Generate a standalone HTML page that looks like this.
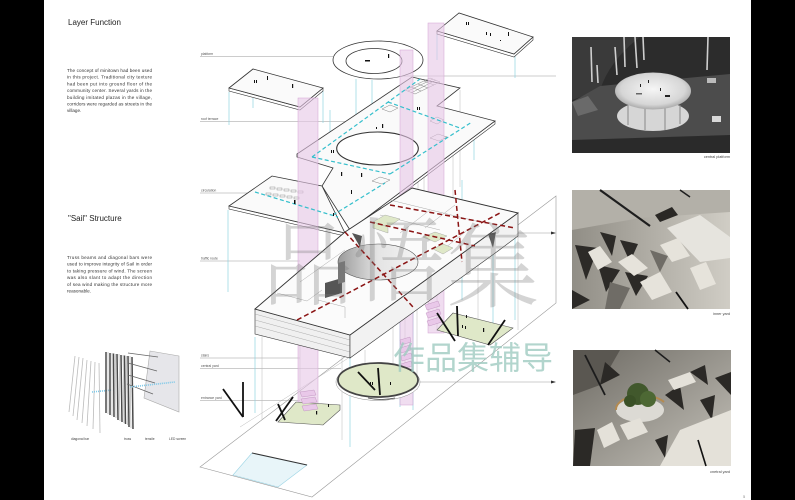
<!DOCTYPE html>
<html><head><meta charset="utf-8"><style>
html,body{margin:0;padding:0;background:#fff;}
svg{display:block;}
</style></head><body>
<svg width="795" height="500" viewBox="0 0 795 500" xmlns="http://www.w3.org/2000/svg" font-family="'Liberation Sans', sans-serif">
<defs>
<radialGradient id="pl" cx="0.5" cy="0.45" r="0.6"><stop offset="0" stop-color="#f6f6f6"/><stop offset="0.7" stop-color="#d6d6d6"/><stop offset="1" stop-color="#9a9a9a"/></radialGradient>
<linearGradient id="p2bg" x1="0" y1="0" x2="1" y2="0"><stop offset="0" stop-color="#918e86"/><stop offset="1" stop-color="#d0cdc5"/></linearGradient>
<linearGradient id="p3bg" x1="0" y1="0" x2="1" y2="1"><stop offset="0" stop-color="#6e6b64"/><stop offset="1" stop-color="#c4c1b9"/></linearGradient>
<linearGradient id="hole" x1="0" y1="0" x2="1" y2="0"><stop offset="0" stop-color="#9a9a9a"/><stop offset="0.5" stop-color="#e4e4e4"/><stop offset="1" stop-color="#f4f4f4"/></linearGradient>
</defs>
<rect width="795" height="500" fill="#fff"/>
<rect x="0" y="0" width="44" height="500" fill="#000"/>
<rect x="751" y="0" width="44" height="500" fill="#000"/>

<!-- LEFT TEXT -->
<g fill="#222">
<text x="68" y="25" font-size="8">Layer Function</text>
<g font-size="4.6" fill="#333">
<text x="67" y="72" textLength="85" lengthAdjust="spacing">The concept of minitown had been used</text>
<text x="67" y="78.7" textLength="85" lengthAdjust="spacing">in this project. Traditional city texture</text>
<text x="67" y="85.4" textLength="85" lengthAdjust="spacing">had been put into ground floor of the</text>
<text x="67" y="92.1" textLength="85" lengthAdjust="spacing">community center. Several yards in the</text>
<text x="67" y="98.8" textLength="85" lengthAdjust="spacing">building imitated plazas in the village,</text>
<text x="67" y="105.5" textLength="85" lengthAdjust="spacing">corridors were regarded as streets in the</text>
<text x="67" y="112.2">village.</text>
</g>
<text x="68" y="221" font-size="8">"Sail" Structure</text>
<g font-size="4.6" fill="#333">
<text x="67" y="259" textLength="85" lengthAdjust="spacing">Truss beams and diagonal bars were</text>
<text x="67" y="265.7" textLength="85" lengthAdjust="spacing">used to improve integrity of Sail in order</text>
<text x="67" y="272.4" textLength="85" lengthAdjust="spacing">to taking pressure of wind. The screen</text>
<text x="67" y="279.1" textLength="85" lengthAdjust="spacing">was also slant to adapt the direction</text>
<text x="67" y="285.8" textLength="85" lengthAdjust="spacing">of sea wind making the structure more</text>
<text x="67" y="292.5">reasonable.</text>
</g>
</g>

<!-- SAIL DIAGRAM -->
<g stroke="#bbb" stroke-width="0.8">
<line x1="75" y1="356" x2="69" y2="412"/><line x1="79" y1="357" x2="73" y2="416"/><line x1="83" y1="358" x2="77" y2="420"/><line x1="87" y1="360" x2="82" y2="423"/><line x1="91" y1="361" x2="87" y2="426"/><line x1="95" y1="362" x2="93" y2="429"/><line x1="99" y1="363" x2="100" y2="433"/>
</g>
<line x1="92" y1="392" x2="112" y2="390" stroke="#7cc8e8" stroke-width="1.6" stroke-dasharray="1 1"/>
<g stroke="#4a4a4a" stroke-width="1.5">
<line x1="106" y1="352" x2="106" y2="413"/><line x1="110" y1="353" x2="110" y2="415"/><line x1="113.5" y1="353.5" x2="114" y2="417"/><line x1="117" y1="354" x2="118" y2="420"/><line x1="121" y1="355" x2="122" y2="422"/><line x1="124.5" y1="355.5" x2="125.5" y2="424"/><line x1="128" y1="356" x2="129" y2="427"/><line x1="132" y1="357" x2="133" y2="429"/>
</g>
<g stroke="#aaa" stroke-width="0.6">
<line x1="108" y1="352" x2="108" y2="414"/><line x1="112" y1="353" x2="112" y2="416"/><line x1="115.5" y1="354" x2="116" y2="418"/><line x1="119" y1="354" x2="120" y2="421"/><line x1="123" y1="355" x2="124" y2="423"/><line x1="126.5" y1="356" x2="127.5" y2="425"/><line x1="130" y1="356" x2="131" y2="428"/>
</g>
<polygon points="150,351 179,356 179,412 144,398" fill="#e6e6ea" stroke="#aaa" stroke-width="0.6"/>
<g stroke="#666" stroke-width="0.8">
<line x1="128" y1="353" x2="158" y2="357"/><line x1="128" y1="363" x2="157" y2="371"/><line x1="128" y1="375" x2="155" y2="383"/><line x1="127" y1="384" x2="153" y2="394"/>
</g>
<line x1="130" y1="387" x2="175" y2="382" stroke="#7cc8e8" stroke-width="1.6" stroke-dasharray="1 1"/>
<g font-size="3.3" fill="#444">
<text x="71" y="440">diagonal bar</text><text x="124" y="440">truss</text><text x="145" y="440">tensile</text><text x="169" y="440">LED screen</text>
</g>

<!-- GROUND STRIP -->
<polygon points="200,467 556,196 556,303 312,497" fill="#fff" stroke="#999" stroke-width="0.6"/>
<line x1="240" y1="427" x2="350" y2="357" stroke="#bbb" stroke-width="0.5"/>
<polygon points="252,453 307,465 278,487 233,475" fill="#e8f5f9" stroke="#9fd6e6" stroke-width="0.6"/>
<line x1="252" y1="453" x2="307" y2="465" stroke="#333" stroke-width="1"/>

<!-- LEADER LINES -->
<g stroke="#999" stroke-width="0.5">
<line x1="200" y1="56.5" x2="333" y2="56.5"/>
<line x1="200" y1="121.5" x2="377" y2="121.5"/>
<line x1="200" y1="193" x2="260" y2="193"/>
<line x1="200" y1="261" x2="300" y2="261"/>
<line x1="200" y1="358" x2="300" y2="358"/>
<line x1="200" y1="368.5" x2="341" y2="368.5"/>
<line x1="200" y1="400.5" x2="300" y2="400.5"/>
<line x1="393" y1="76" x2="556" y2="76"/>
<line x1="500" y1="233" x2="555" y2="233"/>
<line x1="417" y1="382" x2="555" y2="382"/>
</g>
<polygon points="556,233 551,231.5 551,234.5" fill="#333"/>
<polygon points="556,382 551,380.5 551,383.5" fill="#333"/>
<g font-size="3.4" fill="#555">
<text x="201" y="55">platform</text><text x="201" y="120">roof terrace</text><text x="201" y="191.5">circulation</text><text x="201" y="259.5">traffic route</text><text x="201" y="356.5">stairs</text><text x="201" y="367">central yard</text><text x="201" y="399">entrance yard</text>
</g>

<!-- CYAN / GRAY VERTICAL LINES -->
<g stroke="#8fd3e0" stroke-width="0.7">
<line x1="229" y1="92" x2="229" y2="125"/><line x1="253" y1="98" x2="253" y2="108"/><line x1="323" y1="91" x2="323" y2="123"/><line x1="356" y1="79" x2="356" y2="122"/><line x1="437" y1="34" x2="437" y2="60"/><line x1="515" y1="56" x2="515" y2="78"/>
<line x1="228" y1="210" x2="228" y2="292"/><line x1="255" y1="337" x2="255" y2="413"/><line x1="350" y1="357" x2="350" y2="447"/><line x1="400" y1="313" x2="400" y2="407"/><line x1="493" y1="207" x2="493" y2="337"/><line x1="462" y1="180" x2="462" y2="300"/><line x1="357" y1="160" x2="357" y2="215"/><line x1="474" y1="126" x2="474" y2="160"/>
<line x1="330" y1="110" x2="330" y2="150"/><line x1="372" y1="80" x2="372" y2="120"/><line x1="413" y1="300" x2="413" y2="410"/><line x1="515" y1="235" x2="515" y2="320"/>
</g>
<g stroke="#b8b8b8" stroke-width="0.5">
<line x1="387" y1="120" x2="387" y2="250"/><line x1="391" y1="125" x2="391" y2="240"/><line x1="396" y1="120" x2="396" y2="250"/><line x1="418" y1="110" x2="418" y2="260"/><line x1="424" y1="115" x2="424" y2="245"/><line x1="453" y1="125" x2="453" y2="250"/><line x1="460" y1="90" x2="460" y2="187"/>
<line x1="262" y1="334" x2="262" y2="420"/><line x1="300" y1="336" x2="300" y2="420"/><line x1="342" y1="357" x2="342" y2="440"/><line x1="365" y1="350" x2="365" y2="400"/><line x1="393" y1="310" x2="393" y2="390"/><line x1="405" y1="300" x2="405" y2="385"/><line x1="417" y1="290" x2="417" y2="390"/><line x1="437" y1="280" x2="437" y2="330"/><line x1="518" y1="235" x2="518" y2="330"/><line x1="478" y1="250" x2="478" y2="330"/>
</g>

<!-- TOP-LEFT SLAB -->
<polygon points="229,88 300,107 323,88 323,91 300,110 229,91" fill="#fff" stroke="#333" stroke-width="0.6"/>
<polygon points="229,88 253,69 323,88 300,107" fill="#fafafa" stroke="#333" stroke-width="0.8"/>
<!-- TOP-RIGHT SLAB -->
<polygon points="437,31 514,54 533,37 533,40 514,57 437,34" fill="#fff" stroke="#333" stroke-width="0.6"/>
<polygon points="437,31 459,13 533,37 514,54" fill="#fafafa" stroke="#333" stroke-width="0.8"/>

<!-- PLATFORM RING -->
<ellipse cx="378" cy="60" rx="45" ry="19" fill="#fff" stroke="#333" stroke-width="0.8"/>
<ellipse cx="374" cy="61" rx="28" ry="12.5" fill="#fff" stroke="#333" stroke-width="0.8"/>

<!-- ROOF TERRACE -->
<polygon points="495,121 350,230 350,233 495,124" fill="#fff" stroke="#333" stroke-width="0.6"/>
<polygon points="297,154 412,77 460,88 437,106 495,121 350,230 322,186 333,168 297,157" fill="#fafafa" stroke="#333" stroke-width="0.8"/>
<ellipse cx="377.5" cy="148.5" rx="40.8" ry="16.5" fill="#fff" stroke="#333" stroke-width="1.1"/>
<g fill="none" stroke="#666" stroke-width="0.4">
<polygon points="405,90 430,78 440,82 415,94"/><line x1="411" y1="87" x2="421" y2="91"/><line x1="418" y1="84" x2="428" y2="88"/><line x1="424" y1="81" x2="434" y2="85"/><line x1="411" y1="93" x2="436" y2="80"/><line x1="408" y1="91" x2="433" y2="79"/>
<polygon points="382,109 390,105 398,108 390,112"/><polygon points="430,121 437,117 444,120 437,124"/><polygon points="430,138 438,134 447,137 439,141"/><polygon points="372,181 380,177 390,180 382,184"/>
</g>

<!-- CIRCULATION -->
<polygon points="229,206 345,233 345,236 229,209" fill="#fff" stroke="#333" stroke-width="0.6"/>
<polygon points="229,206 272,176 322,186 345,233" fill="#fafafa" stroke="#333" stroke-width="0.8"/>
<g fill="none" stroke="#777" stroke-width="0.4">
<rect x="270" y="187" width="5" height="2"/><rect x="277" y="188" width="5" height="2"/><rect x="284" y="189" width="5" height="2"/><rect x="291" y="190" width="5" height="2"/><rect x="298" y="191" width="5" height="2"/>
<rect x="266" y="193" width="5" height="2"/><rect x="273" y="194" width="5" height="2"/><rect x="280" y="195" width="5" height="2"/><rect x="287" y="196" width="5" height="2"/><rect x="294" y="197" width="5" height="2"/>
</g>

<!-- PINK COLUMNS -->
<g fill="#e6c6e6" fill-opacity="0.6" stroke="#d3a3d3" stroke-width="0.5">
<rect x="298" y="98" width="20" height="320"/>
<rect x="400" y="50" width="13" height="355"/>
<rect x="428" y="23" width="16" height="310"/>
</g>

<!-- CYAN DASHED -->
<g stroke="#35bfcc" stroke-width="1.2" stroke-dasharray="4 2.5" fill="none">
<line x1="312" y1="157" x2="420" y2="79"/>
<line x1="388" y1="102" x2="460" y2="128"/>
<line x1="390" y1="174" x2="472" y2="122"/>
<line x1="312" y1="157" x2="390" y2="174"/>
<line x1="255" y1="192" x2="338" y2="217"/>
<line x1="333" y1="215" x2="385" y2="183"/>
</g>

<!-- TRAFFIC LEVEL -->
<polygon points="255,309 350,335 350,358 255,334" fill="#f0f0f0" stroke="#333" stroke-width="0.6"/>
<g stroke="#999" stroke-width="0.4"><line x1="255" y1="314" x2="350" y2="340"/><line x1="255" y1="320" x2="350" y2="346"/><line x1="255" y1="326" x2="350" y2="352"/></g>
<polygon points="350,335 518,213 518,236 498,251 350,358" fill="#f2f2f2" stroke="#333" stroke-width="0.6"/>
<polygon points="255,309 345,232 412,188 518,213 350,335" fill="#fbfbfb" stroke="#333" stroke-width="0.9"/>
<ellipse cx="378" cy="262" rx="40" ry="18" fill="url(#hole)" stroke="#555" stroke-width="0.6"/>
<g stroke="#aaa" stroke-width="0.5" fill="none">
<polyline points="277,293 307,301 322,290"/><line x1="300" y1="282" x2="345" y2="250"/><line x1="380" y1="215" x2="440" y2="230"/><line x1="390" y1="200" x2="480" y2="222"/><line x1="430" y1="210" x2="400" y2="233"/><line x1="455" y1="205" x2="425" y2="228"/><line x1="470" y1="228" x2="440" y2="252"/><polyline points="318,300 345,307 345,318"/>
</g>
<g fill="#dfe8c8" stroke="#999" stroke-width="0.4">
<polygon points="373,222 385,215 400,219 388,227"/><polygon points="373,222 388,227 388,233 373,228"/>
<polygon points="423,237 435,232 447,236 435,242"/><polygon points="433,249 443,244 453,248 443,254"/>
</g>
<g fill="#555">
<polygon points="325,283 342,278 342,293 325,298"/><polygon points="352,233 362,236 360,247"/><polygon points="488,234 496,232 493,248"/><polygon points="338,263 345,261 345,282 338,284" fill="#777"/>
</g>

<!-- RED DASHED -->
<g stroke="#8b1414" stroke-width="1.5" stroke-dasharray="5 3" fill="none">
<line x1="345" y1="232" x2="413" y2="307"/>
<line x1="297" y1="320" x2="500" y2="213"/>
<line x1="370" y1="222" x2="475" y2="246"/>
<line x1="390" y1="205" x2="515" y2="228"/>
<line x1="455" y1="190" x2="462" y2="262"/>
</g>

<!-- YARDS -->
<polygon points="278,422 296,402 340,405 340,410 323,425" fill="#dfe8c8" stroke="#555" stroke-width="0.6"/>
<g fill="#e9c8e9" stroke="#b98ab9" stroke-width="0.4">
<polygon points="300,392 314,390 316,395 302,397"/><polygon points="301,399 315,397 317,402 303,404"/><polygon points="302,406 316,404 318,409 304,411"/>
<polygon points="400,340 410,337 411,342 401,345"/><polygon points="400,348 410,345 411,350 401,353"/><polygon points="401,356 411,353 412,358 402,361"/><polygon points="401,364 411,361 412,366 402,369"/><polygon points="402,372 412,369 413,374 403,377"/>
<polygon points="425,305 438,301 440,306 427,310"/><polygon points="426,313 439,309 441,314 428,318"/><polygon points="427,321 440,317 442,322 429,326"/>
</g>
<ellipse cx="378" cy="382" rx="42" ry="18.5" fill="#fff" stroke="#888" stroke-width="0.5"/>
<ellipse cx="378" cy="380" rx="40" ry="17" fill="#dfe8c8" stroke="#444" stroke-width="1.8"/>
<path d="M368 398 Q 381 401 395 398" stroke="#444" stroke-width="0.8" fill="none"/>
<polygon points="437,330 453,313 513,328 490,345" fill="#dfe8c8" stroke="#555" stroke-width="0.6"/>

<!-- BLACK BARS -->
<g stroke="#111" stroke-width="1.8">
<line x1="223" y1="389" x2="243" y2="417"/><line x1="243" y1="382" x2="243" y2="417"/>
<line x1="276" y1="421" x2="293" y2="397"/><line x1="278" y1="404" x2="285" y2="420"/>
<line x1="437" y1="313" x2="455" y2="341"/><line x1="505" y1="320" x2="488" y2="345"/><line x1="457" y1="306" x2="458" y2="336"/>
<line x1="378" y1="368" x2="380" y2="395"/><line x1="358" y1="372" x2="375" y2="390"/>
</g>

<!-- PEOPLE -->
<g fill="#111">
<rect x="254" y="80" width="1" height="3"/><rect x="256" y="80" width="1" height="3"/><rect x="267" y="76" width="1" height="4"/><rect x="292" y="84" width="1.2" height="4"/>
<rect x="466" y="22" width="1" height="3"/><rect x="468" y="22" width="1" height="3"/><rect x="486" y="32" width="1" height="3"/><rect x="490" y="33" width="1" height="3"/><rect x="508" y="32" width="1" height="4"/><rect x="500" y="40" width="1" height="1"/>
<rect x="365" y="60" width="5" height="1.5"/><rect x="388" y="54" width="1.2" height="4"/>
<rect x="417" y="107" width="1" height="3"/><rect x="419" y="107" width="1" height="3"/><rect x="382" y="124" width="1.2" height="4"/><rect x="376" y="127" width="1" height="2"/>
<rect x="331" y="150" width="1" height="3"/><rect x="333" y="150" width="1" height="3"/><rect x="341" y="172" width="1.2" height="4"/><rect x="361" y="173" width="1.2" height="4"/><rect x="351" y="190" width="1" height="4"/>
<rect x="294" y="200" width="1.5" height="4"/><rect x="333" y="213" width="1" height="3"/>
<rect x="316" y="411" width="1.2" height="3.5"/><rect x="328" y="404" width="1" height="3"/>
<rect x="370" y="382" width="1" height="3"/><rect x="372" y="382" width="1" height="3"/><rect x="390" y="382" width="1" height="3"/>
<rect x="462" y="325" width="1" height="3"/><rect x="465" y="326" width="1" height="3"/><rect x="483" y="328" width="1.2" height="4"/><rect x="466" y="315" width="1" height="3"/>
</g>

<!-- WATERMARKS -->
<g font-family="'Noto Serif CJK SC', 'Noto Sans CJK SC', serif" fill="#7a7a7a" fill-opacity="0.32" font-size="92" font-weight="300">
<text x="262" y="298">品</text><text x="352" y="294">悟</text><text x="447" y="300">集</text>
</g>
<text x="393" y="369" font-family="'Noto Sans CJK SC', sans-serif" font-size="32" fill="#9fcbc1" fill-opacity="0.8">作品集辅导</text>

<!-- PHOTO 1 -->
<rect x="572" y="37" width="158" height="116" fill="#2c2c2c"/>
<path d="M572 37 L640 37 Q 610 60 600 90 L572 100 Z" fill="#3a3a3a"/>
<polygon points="572,102 600,86 730,74 730,140 572,148" fill="#4c4c4c"/>
<polygon points="572,140 730,135 730,153 572,153" fill="#2a2a2a"/>
<polygon points="572,102 588,96 598,110 578,116" fill="#6a6a6a"/>
<g stroke="#cfcfcf" stroke-width="1.6">
<line x1="591" y1="47" x2="592" y2="82"/><line x1="597" y1="65" x2="598" y2="83"/><line x1="615" y1="47" x2="617" y2="75"/><line x1="624" y1="37" x2="625" y2="67"/><line x1="635" y1="37" x2="637" y2="68"/><line x1="643" y1="37" x2="644" y2="60"/><line x1="708" y1="37" x2="707" y2="70"/>
</g>
<ellipse cx="653" cy="116" rx="36" ry="15" fill="#d6d6d6"/>
<g stroke="#888" stroke-width="1"><line x1="628" y1="105" x2="628" y2="125"/><line x1="645" y1="108" x2="645" y2="130"/><line x1="665" y1="108" x2="665" y2="130"/><line x1="680" y1="105" x2="680" y2="124"/></g>
<ellipse cx="653" cy="91" rx="38" ry="18.5" fill="url(#pl)"/>
<g fill="#222"><rect x="640" y="84" width="1" height="3"/><rect x="648" y="80" width="1" height="3"/><rect x="660" y="88" width="1" height="3"/><rect x="665" y="95" width="5" height="2"/><rect x="636" y="93" width="6" height="1.5" fill="#666"/></g>
<rect x="712" y="116" width="9" height="6" fill="#d8d8d8"/><rect x="707" y="78" width="9" height="5" fill="#bbb"/>
<g font-size="3.8" fill="#444" text-anchor="end"><text x="730" y="158">central platform</text></g>

<!-- PHOTO 2 -->
<rect x="572" y="190" width="158" height="119" fill="url(#p2bg)"/>
<polygon points="572,190 730,190 730,212 640,218 572,230" fill="#b3b0a8"/>
<line x1="600" y1="190" x2="650" y2="226" stroke="#1e1e1e" stroke-width="2.2"/>
<line x1="680" y1="190" x2="690" y2="197" stroke="#1e1e1e" stroke-width="1.5"/>
<polygon points="667,228 700,215 730,237 730,258 700,262" fill="#e6e4de"/>
<polygon points="655,215 672,207 678,215 660,222" fill="#2a2825"/>
<g fill="#2c2a27">
<polygon points="575,245 598,248 586,280"/><polygon points="600,232 616,236 612,256"/><polygon points="620,240 638,244 630,262"/><polygon points="598,265 620,270 606,292"/><polygon points="625,272 648,276 636,296"/><polygon points="572,290 590,300 572,309"/>
</g>
<g fill="#e6e3db">
<polygon points="588,252 600,246 612,262 598,270"/><polygon points="618,262 632,254 648,268 634,276"/><polygon points="640,282 660,272 672,292 652,300"/><polygon points="660,245 678,238 690,256 672,262"/><polygon points="690,268 706,262 716,284 700,290"/>
</g>
<g fill="#6f6c66"><polygon points="610,282 630,288 620,309 605,309"/><polygon points="650,250 668,256 660,272"/></g>
<line x1="676" y1="292" x2="688" y2="309" stroke="#111" stroke-width="1.8"/>
<text x="730" y="315" font-size="3.8" fill="#444" text-anchor="end">inner yard</text>

<!-- PHOTO 3 -->
<rect x="573" y="350" width="158" height="116" fill="url(#p3bg)"/>
<polygon points="573,350 620,350 600,385 573,395" fill="#5a5751"/>
<line x1="585" y1="355" x2="605" y2="395" stroke="#1c1c1c" stroke-width="1.8"/>
<line x1="655" y1="350" x2="670" y2="362" stroke="#1c1c1c" stroke-width="1.5"/>
<ellipse cx="640" cy="410" rx="24" ry="12" fill="#dcdad4"/>
<path d="M616 410 A 26 14 0 0 1 664 402" stroke="#b48a50" stroke-width="2" fill="none"/>
<circle cx="638" cy="394" r="11" fill="#41582c"/><circle cx="648" cy="399" r="8" fill="#4d6834"/><circle cx="630" cy="401" r="6" fill="#3a5026"/>
<g fill="#2b2926">
<polygon points="575,430 595,428 590,466 573,466"/><polygon points="605,362 620,375 600,385"/><polygon points="665,395 680,385 684,410"/><polygon points="690,372 705,365 708,385"/><polygon points="715,378 731,372 731,395"/><polygon points="700,400 715,395 712,420"/><polygon points="655,440 668,435 665,458"/>
</g>
<g fill="#e4e1d9">
<polygon points="597,430 612,422 620,440 604,448"/><polygon points="620,425 640,418 648,432 628,440"/><polygon points="668,380 690,372 696,382 674,390"/><polygon points="680,430 731,410 731,466 660,466"/>
</g>
<line x1="698" y1="440" x2="706" y2="466" stroke="#111" stroke-width="1.6"/>
<text x="730" y="473" font-size="3.8" fill="#444" text-anchor="end">cnetral yard</text>
<text x="743" y="498" font-size="4" fill="#888">5</text>
</svg>
</body></html>
